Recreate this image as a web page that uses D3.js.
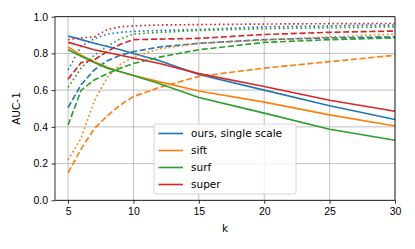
<!DOCTYPE html>
<html>
<head>
<meta charset="utf-8">
<style>
    body { margin: 0; background: #fff; }
    svg { display: block; font-family: 'DejaVu Sans', sans-serif; }
    .grid line { stroke: #b0b0b0; stroke-width: 0.8; }
    .axis text { font-size: 10.5px; fill: #000; }
    .axis line { stroke: #000; stroke-width: 0.8; }
    .axis .domain { display: none; }
    .legend text { font-size: 10.5px; }
</style>
</head>
<body>
<svg width="415" height="249"></svg>
<script src="https://d3js.org/d3.v7.min.js"></script>
<script>
    // shared k values
    let ks = [5, 6, 7, 8, 9, 10, 12, 15, 20, 25, 30]

    let methods = ["ours, single scale", "sift", "surf", "super"]
    let colors = ["#1f77b4", "#ff7f0e", "#2ca02c", "#d62728"]

    // solid
    let oursSolid  = [0.895, 0.875, 0.855, 0.838, 0.82, 0.80, 0.76, 0.685, 0.60, 0.515, 0.44]
    let siftSolid  = [0.835, 0.79, 0.755, 0.725, 0.70, 0.68, 0.645, 0.595, 0.535, 0.465, 0.405]
    let surfSolid  = [0.82, 0.785, 0.75, 0.72, 0.70, 0.68, 0.635, 0.56, 0.475, 0.387, 0.327]
    let superSolid = [0.86, 0.84, 0.82, 0.805, 0.79, 0.775, 0.745, 0.69, 0.62, 0.545, 0.485]

    // dashed
    let oursDashed  = [0.505, 0.63, 0.71, 0.76, 0.79, 0.81, 0.835, 0.855, 0.875, 0.885, 0.89]
    let siftDashed  = [0.15, 0.28, 0.39, 0.46, 0.52, 0.565, 0.615, 0.675, 0.72, 0.755, 0.79]
    let surfDashed  = [0.41, 0.60, 0.655, 0.69, 0.72, 0.745, 0.78, 0.82, 0.86, 0.875, 0.885]
    let superDashed = [0.66, 0.75, 0.765, 0.81, 0.85, 0.875, 0.878, 0.882, 0.903, 0.915, 0.922]

    // dotted
    let oursDotted  = [0.71, 0.84, 0.88, 0.905, 0.915, 0.92, 0.925, 0.93, 0.945, 0.95, 0.955]
    let siftDotted  = [0.22, 0.34, 0.54, 0.67, 0.74, 0.78, 0.825, 0.855, 0.873, 0.89, 0.905]
    let surfDotted  = [0.615, 0.72, 0.79, 0.84, 0.88, 0.905, 0.915, 0.925, 0.935, 0.94, 0.945]
    let superDotted = [0.875, 0.885, 0.89, 0.93, 0.945, 0.95, 0.955, 0.957, 0.96, 0.962, 0.963]

    let xTicks = [5, 10, 15, 20, 25, 30]
    let yTicks = [0, 0.2, 0.4, 0.6, 0.8, 1.0]

    let series = [
        { m: 0, style: "solid", v: oursSolid },
        { m: 0, style: "dashed", v: oursDashed },
        { m: 0, style: "dotted", v: oursDotted },
        { m: 1, style: "solid", v: siftSolid },
        { m: 1, style: "dashed", v: siftDashed },
        { m: 1, style: "dotted", v: siftDotted },
        { m: 2, style: "solid", v: surfSolid },
        { m: 2, style: "dashed", v: surfDashed },
        { m: 2, style: "dotted", v: surfDotted },
        { m: 3, style: "solid", v: superSolid },
        { m: 3, style: "dashed", v: superDashed },
        { m: 3, style: "dotted", v: superDotted }
    ]

    let lw = 1.65
    let dashes = { solid: null, dashed: `${3.7 * lw},${1.6 * lw}`, dotted: `${lw},${1.65 * lw}` }

    let margin = { top: 16.7, right: 20, bottom: 48.7, left: 55 }
    let width = 415, height = 249

    let svg = d3.select("svg")

    let x = d3.scaleLinear()
        .domain([4, 30])
        .range([margin.left, width - margin.right])

    let y = d3.scaleLinear()
        .domain([0, 1])
        .range([height - margin.bottom, margin.top])

    // grid
    let grid = svg.append("g").attr("class", "grid")
    grid.selectAll(".gx").data(xTicks).join("line")
        .attr("x1", d => x(d)).attr("x2", d => x(d))
        .attr("y1", y(0)).attr("y2", y(1))
    grid.selectAll(".gy").data(yTicks).join("line")
        .attr("class", "gy")
        .attr("x1", x(4)).attr("x2", x(30))
        .attr("y1", d => y(d)).attr("y2", d => y(d))

    // lines
    let line = d3.line()
        .x((d, i) => x(ks[i]))
        .y(d => y(d))

    svg.append("g")
        .selectAll("path")
        .data(series)
        .join("path")
        .attr("fill", "none")
        .attr("stroke", d => colors[d.m])
        .attr("stroke-width", lw)
        .attr("stroke-dasharray", d => dashes[d.style])
        .attr("d", d => line(d.v))

    // axes
    svg.append("g")
        .attr("class", "x axis")
        .attr("transform", `translate(0,${y(0)})`)
        .call(d3.axisBottom(x).tickValues(xTicks).tickSize(3.5).tickPadding(3.5))

    svg.append("g")
        .attr("class", "y axis")
        .attr("transform", `translate(${x(4)},0)`)
        .call(d3.axisLeft(y).tickValues(yTicks).tickSize(3.5).tickPadding(3.5).tickFormat(d3.format(".1f")))

    // spines
    svg.append("rect")
        .attr("x", x(4)).attr("y", y(1))
        .attr("width", x(30) - x(4)).attr("height", y(0) - y(1))
        .attr("fill", "none").attr("stroke", "#000").attr("stroke-width", 0.8)

    // axis labels
    svg.append("text")
        .attr("x", (x(4) + x(30)) / 2)
        .attr("y", 232)
        .attr("text-anchor", "middle")
        .style("font-size", "10.5px")
        .text("k")

    svg.append("text")
        .attr("transform", `translate(20,${(y(0) + y(1)) / 2}) rotate(-90)`)
        .attr("text-anchor", "middle")
        .style("font-size", "10.5px")
        .text("AUC-1")

    // legend
    let legend = svg.append("g").attr("class", "legend")
        .attr("transform", "translate(154,124)")
    legend.append("rect")
        .attr("width", 142).attr("height", 70).attr("rx", 2)
        .attr("fill", "rgba(255,255,255,0.8)")
        .attr("stroke", "#cccccc").attr("stroke-width", 0.8)

    let items = legend.selectAll(".item")
        .data(methods)
        .join("g")
        .attr("class", "item")
        .attr("transform", (d, i) => `translate(0,${9.5 + i * 17})`)
    items.append("line")
        .attr("x1", 4.5).attr("x2", 29)
        .attr("stroke", (d, i) => colors[i])
        .attr("stroke-width", lw)
    items.append("text")
        .attr("x", 37)
        .attr("y", 3.8)
        .text(d => d)
</script>
</body>
</html>
